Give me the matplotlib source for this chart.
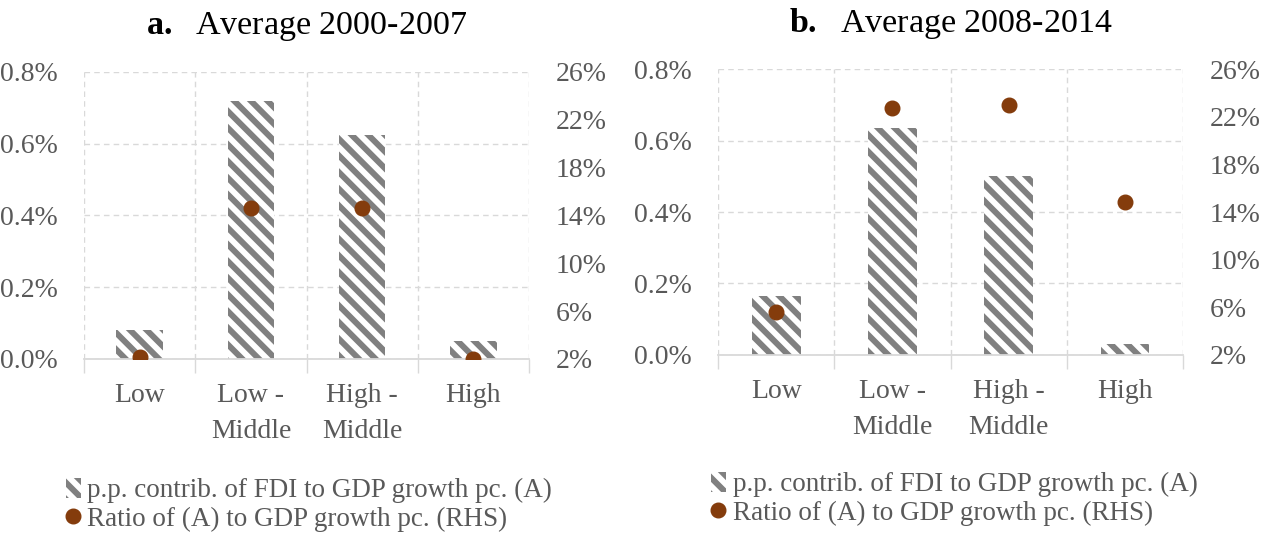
import matplotlib.pyplot as plt
from matplotlib.patches import Rectangle
from matplotlib.lines import Line2D
from matplotlib.ticker import FuncFormatter

plt.rcParams['font.family'] = ['Liberation Serif', 'DejaVu Serif']
plt.rcParams['mathtext.fontset'] = 'custom'
plt.rcParams['mathtext.bf'] = 'Liberation Serif:bold'
plt.rcParams['mathtext.rm'] = 'Liberation Serif'
plt.rcParams['hatch.linewidth'] = 4.3

# --- data ---
categories = ["Low", "Low -\nMiddle", "High -\nMiddle", "High"]
contrib_a = [0.0008, 0.0072, 0.00625, 0.0005]   # p.p. contribution (A), 2000-2007
ratio_a = [0.022, 0.146, 0.146, 0.020]          # ratio (RHS), 2000-2007
contrib_b = [0.00165, 0.00635, 0.0050, 0.0003]  # 2008-2014
ratio_b = [0.056, 0.227, 0.230, 0.148]
left_ticks = [0.0, 0.002, 0.004, 0.006, 0.008]
right_ticks = [0.02, 0.06, 0.10, 0.14, 0.18, 0.22, 0.26]

GRAY_TXT = "#595959"
GRID = "#d9d9d9"
HATCH = "#808080"
DOT = "#843C0C"
FS = 20
FS_LEG = 19.5

fig = plt.figure(figsize=(12.64, 5.33), dpi=100)
axes_pos = [[0.0665, 0.3265, 0.352, 0.5385], [0.568, 0.334, 0.368, 0.5365]]
titles = [r"$\bf{a.}$  Average 2000-2007", r"$\bf{b.}$  Average 2008-2014"]
legend_pos = [(0.052, 0.104), (0.5625, 0.115)]


def draw_panel(pos, title, contrib, ratio, leg_xy):
    ax = fig.add_axes(pos)
    x = range(len(categories))
    ax.bar(x, contrib, width=0.42, facecolor="white", edgecolor=HATCH,
           linewidth=0, hatch="\\\\", zorder=2)
    ax.set_xlim(-0.5, 3.5)
    ax.set_ylim(0, 0.008)
    ax.set_yticks(left_ticks)
    ax.yaxis.set_major_formatter(FuncFormatter(lambda v, p: f"{v*100:.1f}%"))
    ax.set_xticks(list(x))
    ax.set_xticklabels(categories, linespacing=1.6)
    ax.set_xticks([-0.5, 0.5, 1.5, 2.5, 3.5], minor=True)
    ax.set_axisbelow(True)
    ax.grid(True, axis="y", color=GRID, linestyle=(0, (4, 3)), linewidth=1)
    ax.grid(True, axis="x", which="minor", color=GRID, linestyle=(0, (4, 3)), linewidth=1)
    ax.tick_params(axis="x", which="major", length=0, pad=17, labelsize=FS, labelcolor=GRAY_TXT)
    ax.tick_params(axis="x", which="minor", length=10, color=GRID, width=1)
    ax.tick_params(axis="y", length=0, pad=19, labelsize=FS, labelcolor=GRAY_TXT)
    for s in ("top", "left", "right"):
        ax.spines[s].set_visible(False)
    ax.spines["bottom"].set_color(GRID)
    ax.spines["bottom"].set_linewidth(1.3)
    ax.set_title(title, fontsize=24.5, pad=27)

    ax2 = ax.twinx()
    ax2.plot(list(x), ratio, "o", color=DOT, markersize=10.5, zorder=3)
    ax2.set_ylim(0.02, 0.26)
    ax2.set_yticks(right_ticks)
    ax2.yaxis.set_major_formatter(FuncFormatter(lambda v, p: f"{v*100:.0f}%"))
    ax2.tick_params(axis="y", length=0, pad=19, labelsize=FS, labelcolor=GRAY_TXT)
    for s in ax2.spines.values():
        s.set_visible(False)

    handles = [Rectangle((0, 0), 1, 1, facecolor="white", edgecolor=HATCH,
                         linewidth=0, hatch="\\\\"),
               Line2D([], [], marker="o", linestyle="none", color=DOT, markersize=10.5)]
    labels = ["p.p. contrib. of FDI to GDP growth pc. (A)",
              "Ratio of (A) to GDP growth pc. (RHS)"]
    fig.legend(handles, labels, loc="upper left", bbox_to_anchor=leg_xy,
               frameon=False, fontsize=FS_LEG, labelcolor=GRAY_TXT,
               handlelength=0.55, handleheight=0.8, handletextpad=0.25,
               labelspacing=0.1, borderaxespad=0, borderpad=0)


for pos, title, c, r, lp in zip(axes_pos, titles, [contrib_a, contrib_b],
                                [ratio_a, ratio_b], legend_pos):
    draw_panel(pos, title, c, r, lp)

fig.savefig("out.png", dpi=100)
